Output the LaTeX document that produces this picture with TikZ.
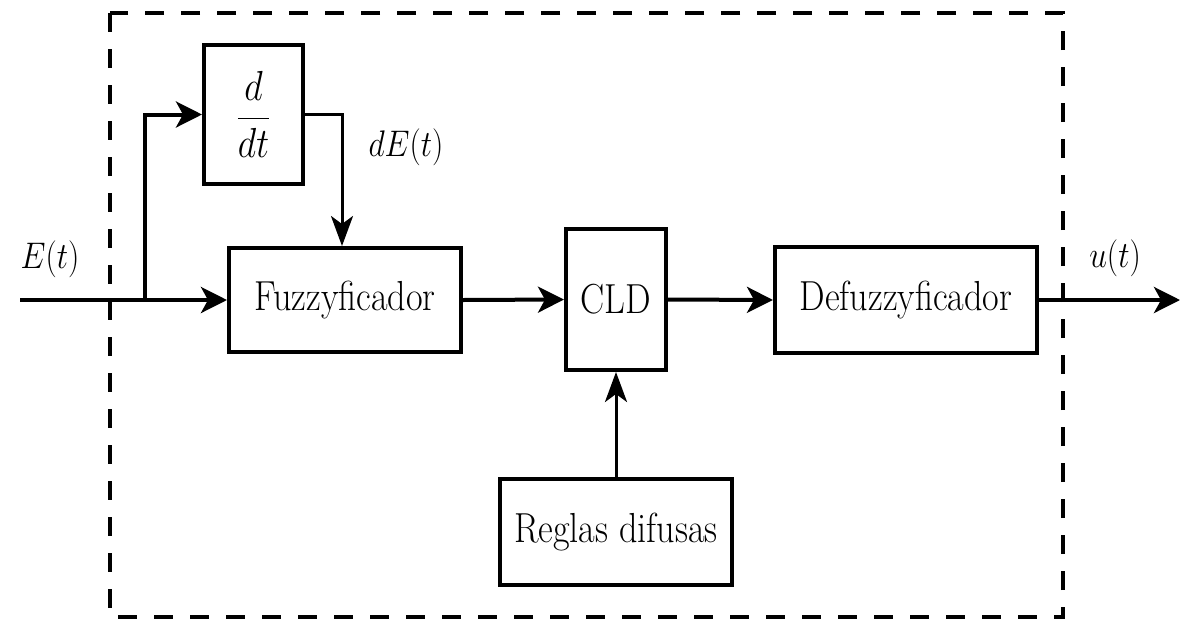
\RequirePackage{fix-cm}
\documentclass[tikz,border=0pt]{standalone}
\usepackage{amsmath}
\usepackage{graphicx}
\usetikzlibrary{arrows.meta}
\newcommand{\condtxt}[1]{\scalebox{0.86}[1]{#1}}
\begin{document}
\begin{tikzpicture}[x=1pt,y=-1pt,
  blk/.style={draw,line width=4pt,inner sep=0pt,font=\fontsize{42}{46}\selectfont},
  sig/.style={line width=4pt,-{Stealth[length=26pt,width=26pt,inset=7pt]}},
  thinsig/.style={line width=3pt,-{Stealth[length=30pt,width=22pt,inset=8pt]}},
  lbl/.style={font=\fontsize{37}{40}\selectfont},
  frame/.style={line width=3.4pt,dash pattern=on 19pt off 17pt}]
\useasboundingbox (0,0) rectangle (1183,619);
\draw[frame] (110,13) rectangle (1063,617);
\node[blk,minimum width=99pt,minimum height=139pt] (ddt) at (253.5,114.5) {\condtxt{$\displaystyle\frac{d}{dt}$}};
\node[blk,minimum width=232pt,minimum height=104pt] (fuz) at (345,300) {\condtxt{Fuzzyficador}};
\node[blk,minimum width=100pt,minimum height=141pt] (cld) at (616,299.5) {\condtxt{CLD}};
\node[blk,minimum width=262pt,minimum height=106pt] (def) at (906,300) {\condtxt{Defuzzyficador}};
\node[blk,minimum width=232pt,minimum height=106pt] (reg) at (616,532) {\condtxt{Reglas difusas}};
\coordinate (in) at (20,300);
\coordinate (br) at (145,300);
\coordinate (out) at (1180,300);
\draw[sig] (in) -- (fuz.west);
\draw[sig] (br) |- (ddt.west);
\draw[thinsig] (ddt.east) -| ([xshift=-3pt]fuz.north);
\draw[sig] (fuz.east) -- (cld.west);
\draw[sig] (cld.east) -- (def.west);
\draw[sig] (def.east) -- (out);
\draw[thinsig] (reg.north) -- (cld.south);
\node[lbl] (E) at (50,259) {\condtxt{$E(t)$}};
\node[lbl] (dE) at (406,147) {\condtxt{$dE(t)$}};
\node[lbl] (u) at (1115,258) {\condtxt{$u(t)$}};
\end{tikzpicture}
\end{document}
